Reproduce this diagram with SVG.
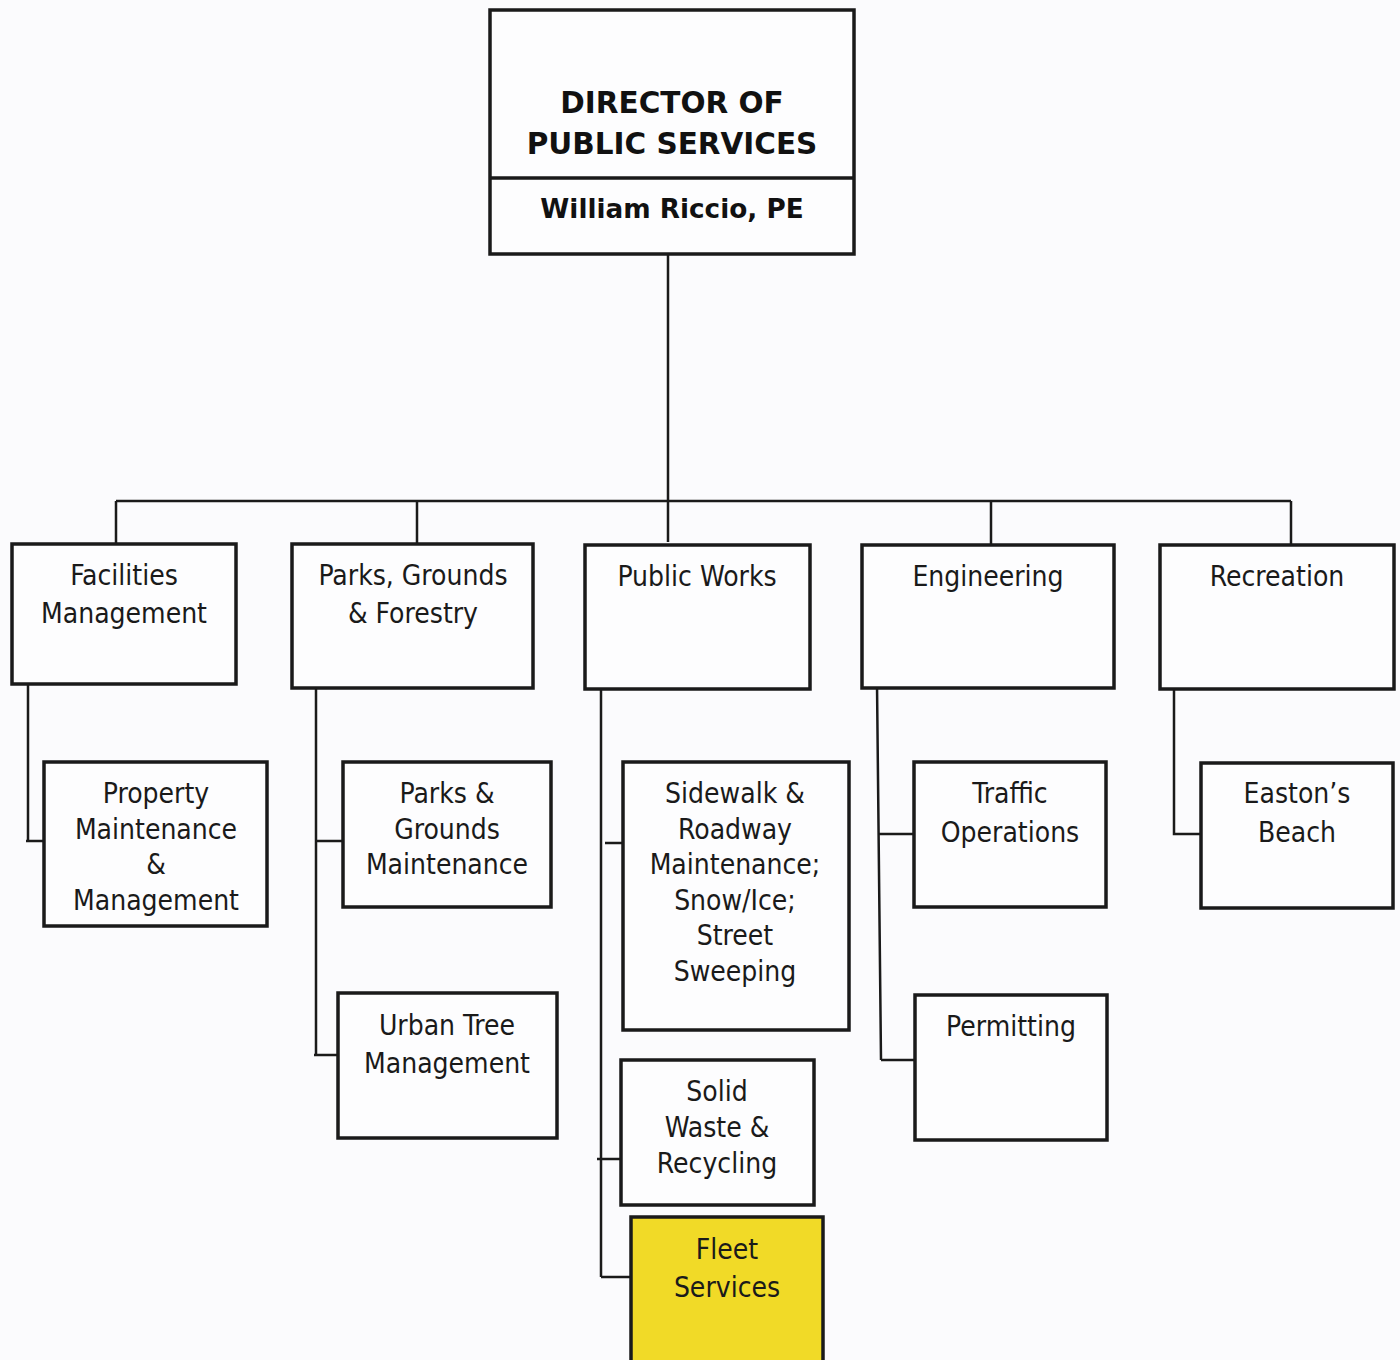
<svg xmlns="http://www.w3.org/2000/svg" width="1400" height="1360" viewBox="0 0 1400 1360">
<style>
.box{fill:#fdfdfe;stroke:#1a1a1a;stroke-width:3.5}
.hl{fill:#f1da27;stroke:#1a1a1a;stroke-width:3.5}
.ln{fill:none;stroke:#1a1a1a;stroke-width:2.5}
.t{font-family:"DejaVu Sans Condensed","DejaVu Sans",sans-serif;font-size:28px;fill:#1a1a1a;text-anchor:middle}
.tb{font-family:"DejaVu Sans","Verdana",sans-serif;font-weight:bold;fill:#111;text-anchor:middle}
</style>
<rect width="1400" height="1360" fill="#fbfbfd"/>
<g id="connectors">
<path class="ln" d="M668,254 V542 M116,501 H1291 M116,501 V544 M417,501 V544 M991,501 V545 M1291,501 V545"/>
<path class="ln" d="M28,684 V841 M26,841 H46"/>
<path class="ln" d="M316,684 V1055 M316,841 H343 M314,1055 H338"/>
<path class="ln" d="M601,686 V1277 M605,843 H623 M597,1159 H621 M601,1277 H631"/>
<path class="ln" d="M877,684 L881,1060 M879,834 H914 M881,1060 H915"/>
<path class="ln" d="M1174,688 V834 H1201"/>
</g>
<g id="director">
<rect class="box" x="490" y="10" width="364" height="244"/>
<line x1="490" y1="178" x2="854" y2="178" stroke="#1a1a1a" stroke-width="3.5"/>
<text class="tb" x="672" y="113" font-size="29.5">DIRECTOR OF</text>
<text class="tb" x="672" y="154" font-size="29.5">PUBLIC SERVICES</text>
<text class="tb" x="672" y="218" font-size="26.3">William Riccio, PE</text>
</g>
<g id="facilities">
<rect class="box" x="12" y="544" width="224" height="140"/>
<text class="t" x="124" y="585">Facilities</text>
<text class="t" x="124" y="623">Management</text>
</g>
<g id="parks-forestry">
<rect class="box" x="292" y="544" width="241" height="144"/>
<text class="t" x="413" y="585">Parks, Grounds</text>
<text class="t" x="413" y="623">&amp; Forestry</text>
</g>
<g id="public-works">
<rect class="box" x="585" y="545" width="225" height="144"/>
<text class="t" x="697" y="586">Public Works</text>
</g>
<g id="engineering">
<rect class="box" x="862" y="545" width="252" height="143"/>
<text class="t" x="988" y="586">Engineering</text>
</g>
<g id="recreation">
<rect class="box" x="1160" y="545" width="234" height="144"/>
<text class="t" x="1277" y="586">Recreation</text>
</g>
<g id="property">
<rect class="box" x="44" y="762" width="223" height="164"/>
<text class="t" x="156" y="803">Property</text>
<text class="t" x="156" y="839">Maintenance</text>
<text class="t" x="156" y="874">&amp;</text>
<text class="t" x="156" y="910">Management</text>
</g>
<g id="parks-grounds">
<rect class="box" x="343" y="762" width="208" height="145"/>
<text class="t" x="447" y="803">Parks &amp;</text>
<text class="t" x="447" y="839">Grounds</text>
<text class="t" x="447" y="874">Maintenance</text>
</g>
<g id="urban-tree">
<rect class="box" x="338" y="993" width="219" height="145"/>
<text class="t" x="447" y="1035">Urban Tree</text>
<text class="t" x="447" y="1073">Management</text>
</g>
<g id="sidewalk">
<rect class="box" x="623" y="762" width="226" height="268"/>
<text class="t" x="735" y="803">Sidewalk &amp;</text>
<text class="t" x="735" y="839">Roadway</text>
<text class="t" x="735" y="874">Maintenance;</text>
<text class="t" x="735" y="910">Snow/Ice;</text>
<text class="t" x="735" y="945">Street</text>
<text class="t" x="735" y="981">Sweeping</text>
</g>
<g id="solid-waste">
<rect class="box" x="621" y="1060" width="193" height="145"/>
<text class="t" x="717" y="1101">Solid</text>
<text class="t" x="717" y="1137">Waste &amp;</text>
<text class="t" x="717" y="1173">Recycling</text>
</g>
<g id="fleet">
<rect class="hl" x="631" y="1217" width="192" height="160"/>
<text class="t" x="727" y="1259">Fleet</text>
<text class="t" x="727" y="1297">Services</text>
</g>
<g id="traffic">
<rect class="box" x="914" y="762" width="192" height="145"/>
<text class="t" x="1010" y="803">Traffic</text>
<text class="t" x="1010" y="842">Operations</text>
</g>
<g id="permitting">
<rect class="box" x="915" y="995" width="192" height="145"/>
<text class="t" x="1011" y="1036">Permitting</text>
</g>
<g id="eastons">
<rect class="box" x="1201" y="763" width="192" height="145"/>
<text class="t" x="1297" y="803">Easton’s</text>
<text class="t" x="1297" y="842">Beach</text>
</g>
</svg>
